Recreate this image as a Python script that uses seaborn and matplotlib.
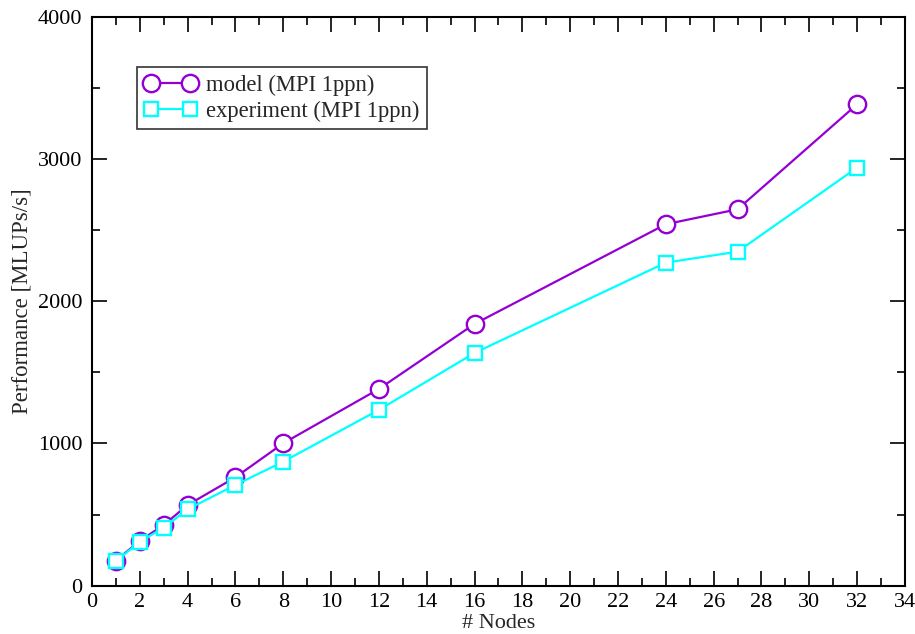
import matplotlib
matplotlib.use("Agg")
import matplotlib.pyplot as plt
import seaborn as sns
import pandas as pd
from matplotlib.ticker import MultipleLocator

nodes = [1, 2, 3, 4, 6, 8, 12, 16, 24, 27, 32]
model = [176, 315, 427, 567, 762, 1001, 1383, 1840, 2541, 2646, 3384]
experiment = [172, 309, 408, 537, 708, 872, 1236, 1636, 2271, 2348, 2939]
series_names = ["model (MPI 1ppn)", "experiment (MPI 1ppn)"]

sns.set_theme(style="ticks")
plt.rcParams['font.family'] = ['Liberation Serif', 'DejaVu Serif']

fig = plt.figure(figsize=(9.15, 6.34), dpi=100)
ax = fig.add_axes([0.1005, 0.0762, 0.8885, 0.8975])

df_m = pd.DataFrame({"x": nodes, "y": model})
df_e = pd.DataFrame({"x": nodes, "y": experiment})

sns.lineplot(data=df_m, x="x", y="y", ax=ax, color="#9400D3", lw=1.6,
             marker="o", markersize=12.5, markerfacecolor="white",
             markeredgecolor="#9400D3", markeredgewidth=1.7,
             label=series_names[0])
sns.lineplot(data=df_e, x="x", y="y", ax=ax, color="#00FFFF", lw=1.6,
             marker="s", markersize=10.5, markerfacecolor="white",
             markeredgecolor="#00FFFF", markeredgewidth=1.7,
             label=series_names[1])

ax.set_xlim(0, 34)
ax.set_ylim(0, 4000)
ax.xaxis.set_major_locator(MultipleLocator(2))
ax.xaxis.set_minor_locator(MultipleLocator(1))
ax.yaxis.set_major_locator(MultipleLocator(1000))
ax.yaxis.set_minor_locator(MultipleLocator(500))
ax.tick_params(which="both", direction="in", top=True, right=True,
               labelsize=16, color="black", labelcolor="black")
ax.tick_params(which="major", length=11, width=1.2)
ax.tick_params(which="minor", length=6, width=1.2)
ax.tick_params(axis="y", pad=7)
ax.tick_params(axis="x", pad=5)
for s in ax.spines.values():
    s.set_linewidth(1.5)
    s.set_color("black")
ax.set_xlabel("# Nodes", fontsize=16, labelpad=1.5)
ax.set_ylabel("Performance [MLUPs/s]", fontsize=16.5, labelpad=4)

leg = ax.legend(loc="upper left", bbox_to_anchor=(0.055, 0.912), fontsize=16.3,
                frameon=True, fancybox=False, edgecolor="black",
                borderaxespad=0, numpoints=2,
                handlelength=2.3, borderpad=0.35, labelspacing=0.2,
                handletextpad=0.4)
leg.get_frame().set_linewidth(1.2)

fig.savefig("out.png", dpi=100)
